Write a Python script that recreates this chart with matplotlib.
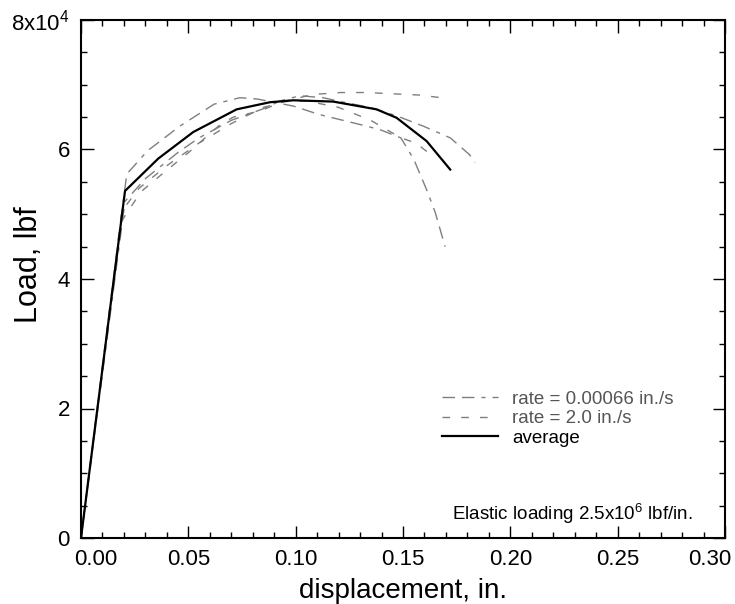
import matplotlib
matplotlib.use("Agg")
import matplotlib.pyplot as plt
from matplotlib.ticker import MultipleLocator, FuncFormatter
from matplotlib.transforms import ScaledTranslation
from matplotlib.lines import Line2D

plt.rcParams['font.family'] = ['Liberation Sans', 'DejaVu Sans']
plt.rcParams['mathtext.fontset'] = 'custom'
plt.rcParams['mathtext.rm'] = 'Liberation Sans'
plt.rcParams['mathtext.it'] = 'Liberation Sans:italic'
plt.rcParams['mathtext.bf'] = 'Liberation Sans:bold'

# displacement (in.) and load (lbf) for the individual tests
slow_a_x = [0.0, 0.0213, 0.031, 0.046, 0.062, 0.074, 0.082, 0.099, 0.111, 0.127, 0.139, 0.149, 0.155, 0.161, 0.165, 0.1696]
slow_a_y = [0, 56200, 59800, 63600, 67000, 68000, 67800, 66700, 65400, 64100, 63100, 61800, 58500, 53800, 50300, 45000]

slow_b_x = [0.0, 0.0205, 0.030, 0.045, 0.055, 0.070, 0.085, 0.0927, 0.102, 0.1127, 0.1238, 0.1346, 0.147, 0.1595, 0.172, 0.181, 0.1835]
slow_b_y = [0, 52000, 55500, 59500, 61800, 64500, 66300, 67500, 68300, 68000, 67200, 66500, 65200, 63600, 61800, 59200, 58000]

fast_a_x = [0.0, 0.019, 0.028, 0.037, 0.050, 0.065, 0.071, 0.084, 0.093, 0.108, 0.121, 0.133, 0.1455, 0.158, 0.170]
fast_a_y = [0, 49000, 53500, 56000, 59500, 63900, 65000, 66000, 67300, 68500, 68800, 68800, 68600, 68400, 67900]

fast_b_x = [0.0, 0.019, 0.027, 0.040, 0.055, 0.070, 0.085, 0.095, 0.105, 0.120, 0.135, 0.149, 0.156, 0.163]
fast_b_y = [0, 50500, 54000, 57500, 61000, 64000, 66500, 67400, 67500, 66500, 64500, 61800, 61000, 59200]

avg_x = [0.0, 0.0205, 0.036, 0.0523, 0.0725, 0.088, 0.099, 0.1175, 0.1377, 0.147, 0.161, 0.172]
avg_y = [0, 53600, 58600, 62700, 66200, 67300, 67600, 67400, 66200, 64900, 61300, 56900]

legend_labels = ['rate = 0.00066 in./s', 'rate = 2.0 in./s', 'average']
y_tick_text = {0: '0', 20000: '2', 40000: '4', 60000: '6', 80000: r'8x10$^4$'}

gray = '#7f7f7f'
slow_dash = (9, 5, 9, 5, 3, 5)
fast_dash = (5.5, 8)

fig = plt.figure(figsize=(7.35, 6.04), dpi=100)
ax = fig.add_axes([81 / 735, 66 / 604, 644 / 735, 518 / 604])

for xs, ys in [(slow_a_x, slow_a_y), (slow_b_x, slow_b_y)]:
    ax.plot(xs, ys, color=gray, lw=1.0, dashes=slow_dash)
for xs, ys in [(fast_a_x, fast_a_y), (fast_b_x, fast_b_y)]:
    ax.plot(xs, ys, color=gray, lw=1.0, dashes=fast_dash)
ax.plot(avg_x, avg_y, color='black', lw=1.6)

ax.set_xlim(0, 0.30)
ax.set_ylim(0, 80000)
ax.xaxis.set_major_locator(MultipleLocator(0.05))
ax.xaxis.set_minor_locator(MultipleLocator(0.01))
ax.yaxis.set_major_locator(MultipleLocator(20000))
ax.yaxis.set_minor_locator(MultipleLocator(5000))
ax.xaxis.set_major_formatter(FuncFormatter(lambda v, p: f'{v:.2f}'))
ax.yaxis.set_major_formatter(FuncFormatter(lambda v, p: y_tick_text.get(int(round(v)), '')))

ax.tick_params(which='both', direction='in', top=True, right=True, labelsize=16, width=1.0)
ax.tick_params(which='major', length=9, pad=8)
ax.tick_params(which='minor', length=4.5)
for s in ax.spines.values():
    s.set_linewidth(1.5)

ax.set_xlabel('displacement, in.', fontsize=20, labelpad=6)
ax.set_ylabel('Load, lbf', fontsize=22)
ax.yaxis.set_label_coords(-0.058, 0.527)

handles = [Line2D([], [], color=gray, lw=1.0, dashes=slow_dash),
           Line2D([], [], color=gray, lw=1.0, dashes=fast_dash),
           Line2D([], [], color='black', lw=1.6)]
leg = ax.legend(handles, legend_labels, loc='upper left', bbox_to_anchor=(0.5606, 0.284),
                frameon=False, fontsize=13.5, handlelength=3.0, handletextpad=0.75,
                labelspacing=0.12, borderpad=0.0, borderaxespad=0.0)
for t, c in zip(leg.get_texts(), ['#555555', '#555555', 'black']):
    t.set_color(c)

ax.text(0.95, 0.035, r'Elastic loading 2.5x10$^6$ lbf/in.', transform=ax.transAxes,
        ha='right', va='baseline', fontsize=13.5)

# nudge the end labels of the x axis inward
fig.canvas.draw()
for lab in ax.get_xticklabels():
    if lab.get_text() == '0.00':
        lab.set_transform(lab.get_transform() + ScaledTranslation(0.15, 0, fig.dpi_scale_trans))
    elif lab.get_text() == '0.30':
        lab.set_transform(lab.get_transform() + ScaledTranslation(-0.15, 0, fig.dpi_scale_trans))

fig.savefig('out.png', dpi=100, facecolor='white')
